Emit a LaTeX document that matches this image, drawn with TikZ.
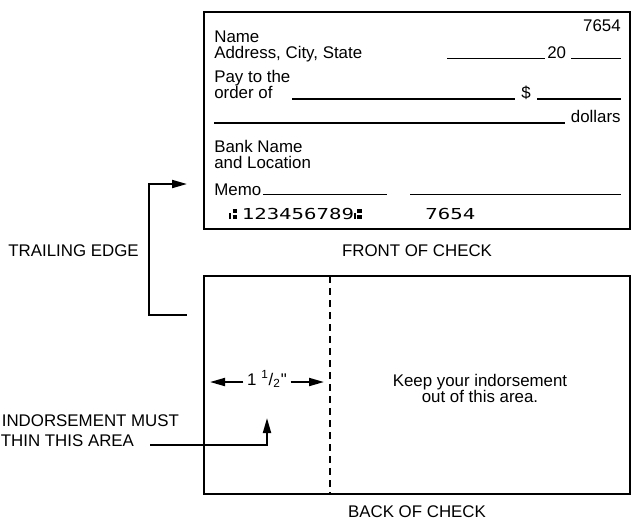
\documentclass[tikz,border=0pt]{standalone}
\usepackage{fontspec}
\setmainfont{Liberation Sans}
\newfontfamily\micrfont[FakeStretch=1.37]{DejaVu Sans Mono}
\usetikzlibrary{arrows.meta}
% bank transit mark, drawn (no installed font has it)
\newcommand\transitsym{\rule{1pt}{3.7pt}\hspace{0.8pt}\rlap{\rule[3.3pt]{2.6pt}{2.4pt}}\rule{2.6pt}{2.4pt}\hspace{2.7pt}}

\begin{document}
\begin{tikzpicture}[x=0.2mm,y=-0.2mm,
        font=\fontsize{9.6}{10}\selectfont,
        txt/.style={inner sep=0pt,anchor=base west},
        rtxt/.style={inner sep=0pt,anchor=base east},
        ctxt/.style={inner sep=0pt,anchor=base},
        micr/.style={txt,font=\micrfont\fontsize{8.6}{9}\selectfont},
        card/.style={draw,line width=1.1pt},
        blank/.style={line width=0.8pt},
        arr/.style={-{Triangle[length=3mm,width=1.6mm]},line width=1.1pt}]
  \useasboundingbox (0,0) rectangle (635,521);
  % front of check
  \draw[card] (204,12) rectangle (630,229);
  \node[rtxt] (num) at (621,31.7) {7654};
  \node[txt] (name) at (214,42) {Name};
  \node[txt] (addr) at (214,58.5) {Address, City, State};
  \draw[blank] (447,58.3) -- (545,58.3);
  \node[txt] (year) at (547,58.3) {20};
  \draw[blank] (571,58.3) -- (621,58.3);
  \node[txt] (pay) at (214,82) {Pay to the};
  \node[txt] (order) at (214,98.3) {order of};
  \draw[blank] (292,99) -- (515,99);
  \node[txt] (dollar) at (521,98.3) {\$};
  \draw[blank] (537,99) -- (621,99);
  \draw[blank] (214,123) -- (565,123);
  \node[rtxt] (dollars) at (621,122.7) {dollars};
  \node[txt] (bank) at (214,152.7) {Bank Name};
  \node[txt] (loc) at (214,168.3) {and Location};
  \node[txt] (memo) at (214,195) {Memo};
  \draw[blank] (263,194.5) -- (387,194.5);
  \draw[blank] (410,194.5) -- (621,194.5);
  \node[micr] (route) at (229,219) {\transitsym123456789\transitsym};
  \node[micr] (chk) at (425,219) {7654};
  \node[ctxt] (front) at (417,256) {FRONT OF CHECK};
  % back of check
  \draw[card] (204,276) rectangle (630,494);
  \draw[line width=1.1pt,dash pattern=on 1.4mm off 1mm] (330,276) -- (330,494);
  \node[ctxt] (keep) at (480,386.7) {Keep your indorsement};
  \node[ctxt] (out) at (480,402.7) {out of this area.};
  \node[ctxt] (back) at (417,517.7) {BACK OF CHECK};
  % trailing edge
  \node[rtxt] (trail) at (139,256.7) {TRAILING EDGE};
  \coordinate (tefront) at (187,184);
  \coordinate (teback) at (187,315);
  \coordinate (bt) at (149,184);
  \coordinate (bb) at (149,315);
  \draw[arr,{Triangle[length=3mm,width=1.6mm]}-] (tefront) -- (bt) -- (bb) -- (teback);
  % indorsement area
  \node[txt] (ind1) at (1.5,426.7) {INDORSEMENT MUST};
  \node[txt] (ind2) at (0.5,446.7) {THIN THIS AREA};
  \coordinate (indline) at (150,445);
  \coordinate (indtip) at (267,418);
  \draw[arr] (indline) -| (indtip);
  \node[ctxt,inner sep=2pt] (dim) at (267,385) {1 \textsuperscript{1}/\textsubscript{2}\textquotedbl};
  \coordinate (dimL) at (210,382);
  \coordinate (dimR) at (324,382);
  \draw[arr] (dim.west |- dimL) -- (dimL);
  \draw[arr] (dim.east |- dimR) -- (dimR);
\end{tikzpicture}
\end{document}
